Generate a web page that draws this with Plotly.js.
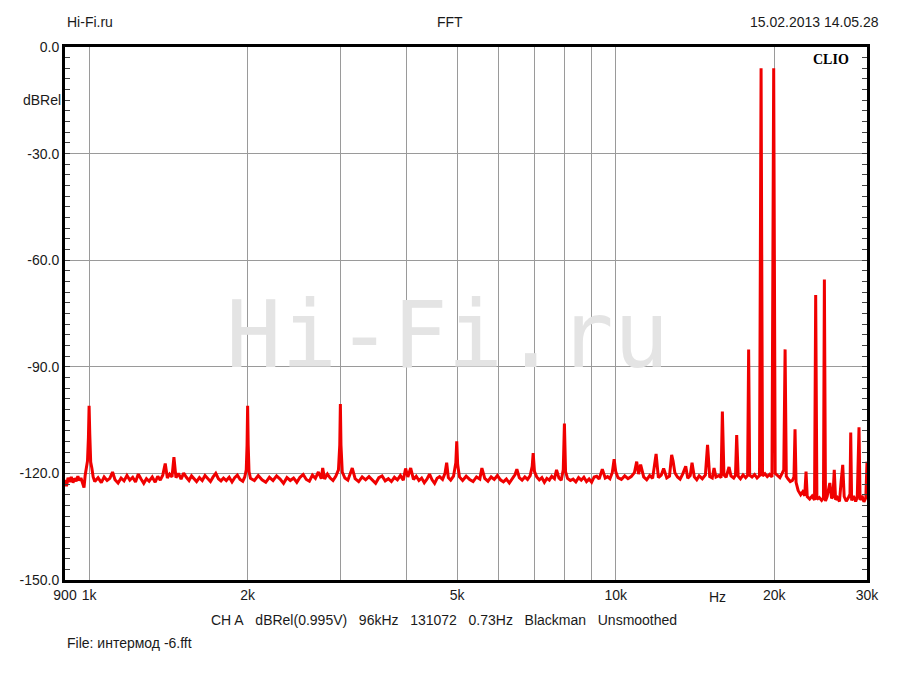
<!DOCTYPE html>
<html>
<head>
<meta charset="utf-8">
<script src="https://cdn.plot.ly/plotly-3.0.1.min.js"></script>
<style>html,body{margin:0;padding:0;background:#fff;}#chart{width:900px;height:675px;}</style>
</head>
<body>
<div id="chart"></div>
<script>
// Frequency (Hz) of each spectrum point
const freqHz = [
  900, 906, 912, 918, 925, 932, 938, 945, 952, 958, 965, 972, 978, 983, 988, 993, 997, 1000, 1003, 1007, 1012, 1018, 1025,
  1040, 1055, 1068, 1082, 1095, 1108, 1120, 1135, 1150, 1165, 1180, 1195, 1210, 1225, 1240, 1255, 1270, 1285, 1300, 1318,
  1335, 1350, 1365, 1380, 1395, 1408, 1422, 1437, 1449, 1462, 1478, 1495, 1512, 1530, 1548, 1565, 1583, 1600, 1620, 1640,
  1660, 1680, 1700, 1720, 1740, 1760, 1780, 1800, 1822, 1845, 1868, 1890, 1912, 1935, 1958, 1975, 1988, 1995, 2000, 2005,
  2012, 2025,
  2060, 2095, 2130, 2165, 2200, 2235, 2270, 2305, 2340, 2375, 2410, 2445, 2480, 2515, 2550, 2585, 2620, 2655, 2690, 2725,
  2760, 2777, 2800, 2835, 2870, 2905, 2940, 2975, 2992, 3000, 3008, 3025, 3060,
  3100, 3160, 3200, 3250, 3300, 3350, 3400, 3450, 3500, 3550, 3600, 3650, 3700, 3750, 3800, 3850, 3900, 3950, 3990, 4030,
  4080, 4130, 4180, 4230, 4280, 4330, 4380, 4430, 4480, 4530, 4580, 4630, 4690, 4740, 4775, 4810, 4860, 4920, 4970, 4990,
  5010, 5050,
  5120, 5200, 5280, 5360, 5440, 5520, 5570, 5640, 5720, 5800, 5880, 5960, 6040, 6120, 6200, 6280, 6360, 6440, 6490, 6560,
  6640, 6720, 6800, 6880, 6940, 6970, 7010, 7080, 7160, 7240, 7320, 7400, 7480, 7560, 7650, 7720, 7800, 7880, 7950, 7990,
  8030, 8100, 8200, 8300, 8400, 8500, 8600, 8700, 8800, 8900, 9000, 9100, 9200, 9300, 9430, 9550, 9650, 9750, 9850, 9930,
  10000, 10100,
  10250, 10400, 10550, 10700, 10850, 10960, 11050, 11150, 11300, 11450, 11600, 11750, 11930, 12050, 12200, 12330, 12500,
  12650, 12770, 12850, 12950, 13100, 13250, 13400, 13580, 13700, 13850, 13960, 14100, 14250, 14400, 14600, 14800, 14940,
  15080, 15250, 15370, 15500, 15700, 15850, 15940, 16050, 16200, 16410, 16550, 16750, 16880, 16970, 17080, 17250, 17450,
  17650, 17800, 17880, 17960, 18150, 18350, 18550, 18750, 18880, 19000, 19200, 19400, 19600, 19800, 19950, 20080, 20300,
  20500, 20700, 20850, 20970, 21080, 21250, 21450, 21650, 21800, 21900, 22000, 22200, 22450, 22650, 22850, 22980, 23100,
  23350, 23600, 23850, 23970, 24100, 24350, 24600, 24800, 24900, 25020, 25200, 25500, 25700, 25850, 26000, 26150, 26350,
  26600, 26800, 26980, 27150, 27400, 27650, 27850, 27940, 28050, 28300, 28550, 28750, 28970, 29100, 29350, 29600, 29850,
  30000
];
// Level (dBRel) of each spectrum point
const levelDb = [
  -121.8, -123.6, -121.2, -122.4, -121.0, -122.6, -121.4, -122.2, -120.8, -122.0, -121.3, -122.8, -124.0, -120.5, -118.0, -116.5, -110.0, -101.0, -109.0, -116.8, -118.5, -121.0, -122.3,
  -121.2, -122.6, -121.0, -122.0, -121.4, -119.6, -121.8, -122.7, -121.3, -122.1, -120.6, -121.9, -121.1, -122.4, -120.2, -121.6, -122.8, -121.5, -122.2, -121.0,
  -122.5, -120.8, -121.9, -120.5, -117.2, -121.3, -120.2, -121.0, -115.4, -121.2, -120.0, -121.6, -119.9, -121.1, -122.0, -120.7, -121.5, -122.3, -121.2, -122.0,
  -120.6, -121.4, -122.3, -121.0, -120.0, -121.5, -122.1, -121.3, -122.0, -121.1, -122.4, -121.2, -120.5, -121.7, -122.2, -121.0, -119.0, -112.0, -101.0, -112.0,
  -119.5, -121.4,
  -122.0, -120.6, -121.8, -122.5, -121.1, -122.0, -120.7, -121.6, -122.8, -121.2, -122.0, -121.3, -122.5, -121.1, -120.3, -121.7, -122.2, -120.5, -121.4, -119.6,
  -121.5, -118.5, -121.6, -120.2, -121.3, -122.0, -120.8, -119.0, -112.0, -100.5, -112.0, -119.6, -121.3,
  -121.9, -118.5, -121.5, -122.3, -121.0, -121.8, -120.9, -122.0, -122.8, -121.2, -120.7, -122.1, -121.5, -122.3, -121.1, -121.8, -120.6, -121.9, -118.6, -121.0,
  -118.5, -121.7, -120.8, -122.0, -121.3, -122.6, -121.6, -120.2, -121.8, -122.8, -121.4, -120.9, -121.7, -120.0, -117.0, -121.2, -121.9, -120.8, -117.0, -111.0,
  -117.5, -121.0,
  -122.0, -120.8, -121.7, -122.3, -121.0, -121.6, -118.5, -121.4, -122.2, -121.0, -121.7, -120.6, -121.8, -122.4, -121.6, -122.7, -121.5, -120.3, -118.8, -121.2,
  -121.9, -121.0, -121.7, -120.6, -118.0, -114.3, -119.5, -121.0, -121.8, -121.2, -122.5, -121.4, -121.9, -120.8, -121.5, -119.0, -121.3, -121.9, -119.0, -106.0,
  -119.5, -121.4, -122.0, -121.6, -122.4, -121.2, -121.9, -121.1, -122.3, -121.6, -122.5, -121.0, -120.8, -121.6, -118.8, -121.3, -120.9, -121.5, -119.8, -116.0,
  -119.5, -121.2,
  -121.7, -120.7, -121.5, -120.9, -119.8, -116.7, -120.2, -117.5, -121.0, -121.8, -120.6, -121.4, -114.5, -121.2, -120.5, -118.6, -121.3,
  -120.8, -114.8, -116.5, -119.8, -121.0, -121.6, -120.2, -118.0, -121.4, -120.6, -117.0, -121.0, -121.8, -120.7, -121.5, -120.4, -112.0,
  -120.9, -121.3, -118.5, -121.0, -120.6, -121.2, -102.6, -120.4, -121.1, -118.2, -120.7, -121.3, -120.5, -109.2, -120.8, -121.5, -120.4,
  -121.2, -120.6, -85.1, -120.5, -121.0, -120.3, -121.3, -120.6, -6.0, -120.7, -120.1, -120.9, -120.3, -121.0, -6.0, -120.0, -120.6,
  -121.2, -120.0, -119.0, -85.1, -120.8, -121.6, -122.3, -122.0, -121.0, -107.6, -122.5, -124.8, -126.0, -125.2, -126.3, -119.5, -126.5,
  -127.2, -126.4, -127.5, -69.8, -127.3, -126.8, -127.6, -126.9, -65.4, -127.8, -126.5, -122.7, -127.0, -126.6, -119.0, -127.4, -126.8,
  -127.9, -122.0, -117.6, -126.5, -127.8, -126.9, -125.8, -108.5, -127.6, -126.4, -127.9, -126.7, -107.0, -127.5, -126.3, -128.0, -126.8,
  -116.7
];

// Axis ticks
const xTickVals = [900, 1000, 2000, 3000, 4000, 5000, 6000, 7000, 8000, 9000, 10000, 20000, 30000];
const xTickText = ['900', '1k', '2k', '', '', '5k', '', '', '', '', '10k', '20k', '30k'];
const yTickVals = [0, -30, -60, -90, -120, -150];
const yTickText = ['0.0', '-30.0', '-60.0', '-90.0', '-120.0', '-150.0'];

const NB = '\u00a0';
const sp = NB + NB + NB;
const footerText = ['CH A', 'dBRel(0.995V)', '96kHz', '131072', '0.73Hz', 'Blackman', 'Unsmoothed'].join(sp);

const textFont = {family: 'Liberation Sans, Arial, sans-serif', size: 14, color: '#1a1a1a'};

const trace = {
  x: freqHz,
  y: levelDb,
  type: 'scatter',
  mode: 'lines',
  line: {color: '#f00000', width: 3},
  hoverinfo: 'skip'
};

const layout = {
  width: 900,
  height: 675,
  margin: {l: 65, r: 33, t: 47, b: 95},
  paper_bgcolor: '#ffffff',
  plot_bgcolor: '#ffffff',
  showlegend: false,
  font: textFont,
  xaxis: {
    type: 'log',
    range: [Math.log10(900), Math.log10(30000)],
    tickmode: 'array',
    tickvals: xTickVals,
    ticktext: xTickText,
    showgrid: true,
    gridcolor: '#9a9a9a',
    gridwidth: 1,
    zeroline: false,
    showline: true,
    linecolor: '#000000',
    linewidth: 3,
    mirror: true,
    ticks: '',
    tickfont: textFont
  },
  yaxis: {
    range: [-150, 0],
    tickmode: 'array',
    tickvals: yTickVals,
    ticktext: yTickText,
    showgrid: true,
    gridcolor: '#9a9a9a',
    gridwidth: 1,
    zeroline: false,
    showline: true,
    linecolor: '#000000',
    linewidth: 3,
    mirror: 'allticks',
    ticks: 'inside',
    ticklen: 5,
    tickcolor: '#444',
    tickfont: textFont,
    minor: {tick0: 0, dtick: 3, ticks: 'inside', ticklen: 5, tickcolor: '#444', showgrid: false}
  },
  annotations: [
    {text: 'Hi-Fi.ru', xref: 'paper', yref: 'paper', x: 0, y: 1, xanchor: 'left', yanchor: 'middle', yshift: 25, showarrow: false, font: textFont},
    {text: 'FFT', xref: 'paper', yref: 'paper', x: (450 - 65) / 802, y: 1, xanchor: 'center', yanchor: 'middle', yshift: 25, showarrow: false, font: textFont},
    {text: '15.02.2013 14.05.28', xref: 'paper', yref: 'paper', x: (881 - 65) / 802, y: 1, xanchor: 'right', yanchor: 'middle', yshift: 25, showarrow: false, font: textFont},
    {text: 'dBRel', xref: 'paper', yref: 'y', x: 0, y: -15, xanchor: 'right', yanchor: 'middle', xshift: -2, showarrow: false, font: textFont},
    {text: 'Hz', xref: 'x', yref: 'paper', x: Math.log10(15600), y: 0, xanchor: 'center', yanchor: 'top', yshift: -7, showarrow: false, font: textFont},
    {text: footerText, xref: 'paper', yref: 'paper', x: (444 - 65) / 802, y: 0, xanchor: 'center', yanchor: 'middle', yshift: -40, showarrow: false, font: textFont},
    {text: 'File: интермод -6.fft', xref: 'paper', yref: 'paper', x: 0, y: 0, xanchor: 'left', yanchor: 'middle', yshift: -63, showarrow: false, font: textFont},
    {text: '<b>CLIO</b>', xref: 'paper', yref: 'paper', x: (831 - 65) / 802, y: 1, xanchor: 'center', yanchor: 'middle', yshift: -12, showarrow: false, font: {family: 'Liberation Serif, DejaVu Serif, serif', size: 14, color: '#000'}},
    {text: 'Hi-Fi.ru', xref: 'paper', yref: 'y', x: (447 - 65) / 802, y: -81.3, xanchor: 'center', yanchor: 'middle', showarrow: false, font: {family: 'DejaVu Sans Mono, monospace', size: 92, color: '#e4e4e4'}}
  ]
};

Plotly.newPlot('chart', [trace], layout, {staticPlot: true, displayModeBar: false});
</script>
</body>
</html>
